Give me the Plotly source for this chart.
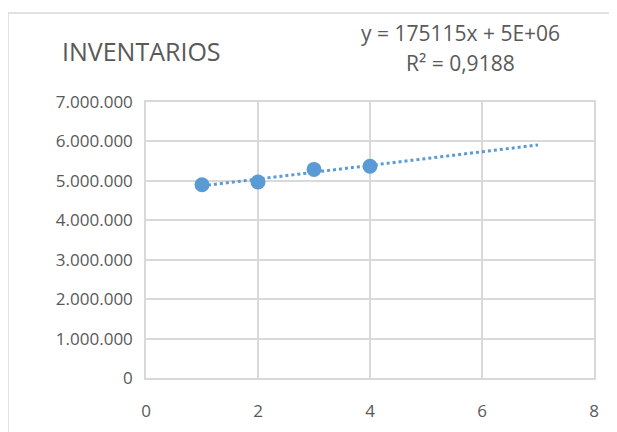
import numpy as np
import plotly.graph_objects as go

# Data
periodos = [1, 2, 3, 4]
inventarios = [4900000, 4970000, 5290000, 5370000]
x_ticks = [0, 2, 4, 6, 8]
y_ticks = [0, 1000000, 2000000, 3000000, 4000000, 5000000, 6000000, 7000000]
titulo = "INVENTARIOS"
ecuacion = "y = 175115x + 5E+06"
r2_texto = "R² = 0,9188"
trend_x_end = 7  # forward forecast of 3 periods

# Linear trendline (least squares, as Excel does)
slope, intercept = np.polyfit(periodos, inventarios, 1)
tx = np.linspace(periodos[0], trend_x_end, 50)
ty = slope * tx + intercept

blue = "#5B9BD5"
grid = "#D9D9D9"
txt = "#595959"
font = "Open Sans"

# page body has an 8px margin, so the figure is offset by 8px
off = 8
pl, pr, pt, pb = 146, 594, 102, 378  # plot area in reference pixels
W, H = pr - pl, pb - pt


def px(x):
    return (x - pl) / W


def py(y):
    return (pb - y) / H


fig = go.Figure()
fig.add_trace(go.Scatter(x=tx, y=ty, mode="lines",
                         line=dict(color=blue, width=3, dash="dot"),
                         hoverinfo="skip", showlegend=False))
fig.add_trace(go.Scatter(x=periodos, y=inventarios, mode="markers",
                         marker=dict(color=blue, size=15),
                         showlegend=False))

fig.update_layout(
    width=617, height=432,
    margin=dict(l=pl - off, r=617 - (pr - off), t=pt - off, b=432 - (pb - off)),
    paper_bgcolor="white", plot_bgcolor="white",
    separators=",.",
    font=dict(family=font, color=txt, size=17),
    xaxis=dict(range=[0, 8], tickvals=x_ticks, showgrid=True, gridcolor=grid,
               gridwidth=1.5, zeroline=False, showline=True, mirror=True,
               linecolor=grid, linewidth=1.5, ticks="", ticklabelstandoff=17,
               tickfont=dict(size=17, color=txt, family=font), fixedrange=True),
    yaxis=dict(range=[0, 7000000], tickvals=y_ticks, tickformat=",d",
               showgrid=True, gridcolor=grid, gridwidth=1.5, zeroline=False,
               showline=True, mirror=True, linecolor=grid, linewidth=1.5,
               ticks="", ticklabelstandoff=8,
               tickfont=dict(size=17, color=txt, family=font), fixedrange=True),
    annotations=[
        dict(text=titulo, xref="paper", yref="paper", x=px(60),
             y=py(51), xanchor="left", yanchor="middle",
             showarrow=False, font=dict(size=25, color=txt, family=font)),
        dict(text=ecuacion, xref="paper", yref="paper", x=px(460),
             y=py(33), xanchor="center", yanchor="middle",
             showarrow=False, font=dict(size=21, color=txt, family=font)),
        dict(text=r2_texto, xref="paper", yref="paper", x=px(460),
             y=py(63), xanchor="center", yanchor="middle",
             showarrow=False, font=dict(size=21, color=txt, family=font)),
    ],
    shapes=[
        dict(type="rect", xref="paper", yref="paper",
             x0=px(8), x1=px(660), y0=py(480), y1=py(13),
             line=dict(color=grid, width=1.5), layer="below"),
    ],
)

fig.write_html("out.html")
